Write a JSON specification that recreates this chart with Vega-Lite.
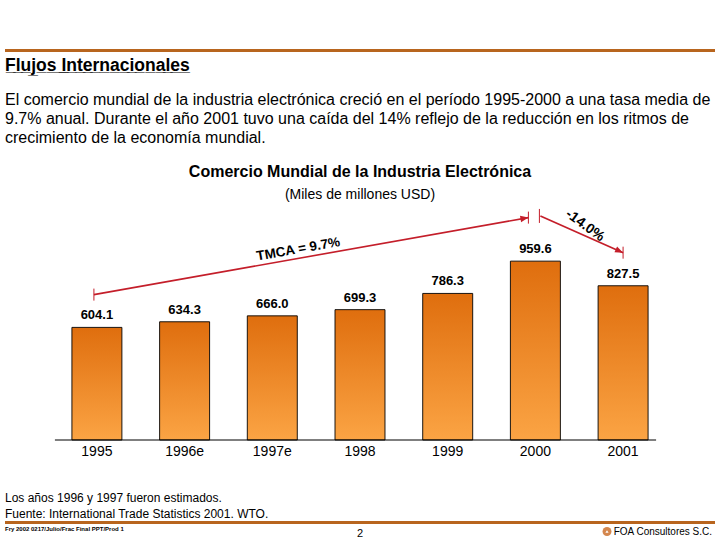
{
  "$schema": "https://vega.github.io/schema/vega-lite/v6.json",
  "background": "white",
  "padding": {"left": 5, "right": 5, "top": 49, "bottom": 0},
  "spacing": 17,
  "config": {
    "font": "Liberation Sans",
    "view": {"stroke": null},
    "title": {"color": "black", "subtitleColor": "black", "font": "Liberation Sans", "subtitleFont": "Liberation Sans"},
    "axis": {"labelColor": "black", "titleColor": "black"}
  },
  "datasets": {
    "bars": [
      {"year": "1995", "value": 604.1},
      {"year": "1996e", "value": 634.3},
      {"year": "1997e", "value": 666.0},
      {"year": "1998", "value": 699.3},
      {"year": "1999", "value": 786.3},
      {"year": "2000", "value": 959.6},
      {"year": "2001", "value": 827.5}
    ],
    "arrows": [
      {"id": "tmca", "x": "1995", "y": 780, "x2": "2000", "y2": 1193},
      {"id": "drop", "x": "2000", "y": 1202, "x2": "2001", "y2": 1005}
    ],
    "notes": [
      {"id": "tmca", "text": "TMCA = 9.7%", "year": "1997e", "value": 1023},
      {"id": "drop", "text": "-14.0%", "year": "2001", "value": 1150}
    ],
    "footer": [
      {"pos": "left", "text": "Fry 2002 0217/Julio/Frac Final PPT/Prod 1"},
      {"pos": "center", "text": "2"},
      {"pos": "right", "text": "FOA Consultores S.C."}
    ]
  },
  "vconcat": [
    {
      "width": 710,
      "height": 3,
      "view": {"fill": "#B8651E", "stroke": null},
      "data": {"values": []},
      "mark": "text",
      "title": {
        "text": "F\u0332l\u0332u\u0332j\u0332o\u0332s\u0332 \u0332I\u0332n\u0332t\u0332e\u0332r\u0332n\u0332a\u0332c\u0332i\u0332o\u0332n\u0332a\u0332l\u0332e\u0332s\u0332",
        "orient": "bottom",
        "anchor": "start",
        "offset": 5,
        "fontSize": 17.5,
        "fontWeight": "bold",
        "subtitle": [
          "El comercio mundial de la industria electrónica creció en el período 1995-2000 a una tasa media de",
          "9.7% anual. Durante el año 2001 tuvo una caída del 14% reflejo de la reducción en los ritmos de",
          "crecimiento de la economía mundial."
        ],
        "subtitleFontSize": 16,
        "subtitleLineHeight": 19,
        "subtitlePadding": 17.5
      }
    },
    {
      "spacing": 34,
      "vconcat": [
        {
          "width": 710,
          "height": 233,
          "title": {
            "text": "Comercio Mundial de la Industria Electrónica",
            "subtitle": "(Miles de millones USD)",
            "anchor": "middle",
            "fontSize": 16,
            "fontWeight": "bold",
            "subtitleFontSize": 14,
            "subtitlePadding": 8,
            "offset": 5
          },
          "layer": [
            {
              "data": {"name": "bars"},
              "mark": {
                "type": "bar",
                "fill": {"gradient": "linear", "x1": 0, "y1": 0, "x2": 0, "y2": 1,
                  "stops": [{"offset": 0, "color": "#DF6E0E"}, {"offset": 1, "color": "#FBA444"}]},
                "stroke": "#000000",
                "strokeWidth": 0.9
              },
              "encoding": {
                "x": {
                  "field": "year", "type": "nominal", "sort": null,
                  "scale": {"domain": ["1995", "1996e", "1997e", "1998", "1999", "2000", "2001"], "paddingInner": 0.43, "paddingOuter": 0.763},
                  "axis": {"title": null, "labelAngle": 0, "domain": false, "ticks": false, "labelFontSize": 14, "labelPadding": 4, "labelFont": "Liberation Sans"}
                },
                "y": {
                  "field": "value", "type": "quantitative",
                  "scale": {"domain": [0, 1250], "nice": false},
                  "axis": null
                }
              }
            },
            {
              "data": {"name": "bars"},
              "mark": {"type": "text", "baseline": "bottom", "dy": -5, "fontSize": 13, "fontWeight": "bold", "color": "black"},
              "encoding": {
                "x": {"field": "year", "type": "nominal", "title": null},
                "y": {"field": "value", "type": "quantitative"},
                "text": {"field": "value", "type": "quantitative", "format": ".1f"}
              }
            },
            {
              "data": {"values": [{}]},
              "mark": {"type": "rule", "color": "black", "strokeWidth": 1.2, "xOffset": -42, "x2Offset": 33},
              "encoding": {
                "x": {"datum": "1995", "type": "nominal"},
                "x2": {"datum": "2001"},
                "y": {"datum": 0, "type": "quantitative"}
              }
            },
            {
              "data": {"name": "arrows"},
              "transform": [{"filter": "datum.id == 'tmca'"}],
              "mark": {"type": "rule", "color": "#C41E2A", "strokeWidth": 1.6, "xOffset": -3, "x2Offset": -7},
              "encoding": {
                "x": {"field": "x", "type": "nominal", "title": null},
                "x2": {"field": "x2"},
                "y": {"field": "y", "type": "quantitative"},
                "y2": {"field": "y2"}
              }
            },
            {
              "data": {"name": "arrows"},
              "transform": [{"filter": "datum.id == 'tmca'"}],
              "mark": {"type": "point", "shape": "M0,0L-2,-0.8L-2,0.8Z", "size": 64, "filled": true, "opacity": 1, "color": "#C41E2A", "angle": -10, "xOffset": -7},
              "encoding": {
                "x": {"field": "x2", "type": "nominal", "title": null},
                "y": {"field": "y2", "type": "quantitative"}
              }
            },
            {
              "data": {"name": "arrows"},
              "transform": [{"filter": "datum.id == 'tmca'"}],
              "mark": {"type": "rule", "color": "#C41E2A", "strokeWidth": 1, "xOffset": -3, "yOffset": -6, "y2Offset": 6},
              "encoding": {
                "x": {"field": "x", "type": "nominal", "title": null},
                "y": {"field": "y", "type": "quantitative"},
                "y2": {"field": "y"}
              }
            },
            {
              "data": {"name": "arrows"},
              "transform": [{"filter": "datum.id == 'tmca'"}],
              "mark": {"type": "rule", "color": "#C41E2A", "strokeWidth": 1, "xOffset": -7, "yOffset": -6, "y2Offset": 6},
              "encoding": {
                "x": {"field": "x2", "type": "nominal", "title": null},
                "y": {"field": "y2", "type": "quantitative"},
                "y2": {"field": "y2"}
              }
            },
            {
              "data": {"name": "arrows"},
              "transform": [{"filter": "datum.id == 'drop'"}],
              "mark": {"type": "rule", "color": "#C41E2A", "strokeWidth": 1.6, "xOffset": 5, "x2Offset": 0},
              "encoding": {
                "x": {"field": "x", "type": "nominal", "title": null},
                "x2": {"field": "x2"},
                "y": {"field": "y", "type": "quantitative"},
                "y2": {"field": "y2"}
              }
            },
            {
              "data": {"name": "arrows"},
              "transform": [{"filter": "datum.id == 'drop'"}],
              "mark": {"type": "point", "shape": "M0,0L-2,-0.8L-2,0.8Z", "size": 64, "filled": true, "opacity": 1, "color": "#C41E2A", "angle": 24},
              "encoding": {
                "x": {"field": "x2", "type": "nominal", "title": null},
                "y": {"field": "y2", "type": "quantitative"}
              }
            },
            {
              "data": {"name": "arrows"},
              "transform": [{"filter": "datum.id == 'drop'"}],
              "mark": {"type": "rule", "color": "#C41E2A", "strokeWidth": 1, "xOffset": 4, "yOffset": -7, "y2Offset": 7},
              "encoding": {
                "x": {"field": "x", "type": "nominal", "title": null},
                "y": {"field": "y", "type": "quantitative"},
                "y2": {"field": "y"}
              }
            },
            {
              "data": {"name": "arrows"},
              "transform": [{"filter": "datum.id == 'drop'"}],
              "mark": {"type": "rule", "color": "#C41E2A", "strokeWidth": 1, "xOffset": 0, "yOffset": -6, "y2Offset": 6},
              "encoding": {
                "x": {"field": "x2", "type": "nominal", "title": null},
                "y": {"field": "y2", "type": "quantitative"},
                "y2": {"field": "y2"}
              }
            },
            {
              "data": {"name": "notes"},
              "transform": [{"filter": "datum.id == 'tmca'"}],
              "mark": {"type": "text", "fontSize": 13.5, "fontWeight": "bold", "angle": -10, "xOffset": 26, "color": "black"},
              "encoding": {
                "x": {"field": "year", "type": "nominal", "title": null},
                "y": {"field": "value", "type": "quantitative"},
                "text": {"field": "text"}
              }
            },
            {
              "data": {"name": "notes"},
              "transform": [{"filter": "datum.id == 'drop'"}],
              "mark": {"type": "text", "fontSize": 14, "fontWeight": "bold", "angle": 36, "xOffset": -38, "color": "black"},
              "encoding": {
                "x": {"field": "year", "type": "nominal", "title": null},
                "y": {"field": "value", "type": "quantitative"},
                "text": {"field": "text"}
              }
            }
          ]
        },
        {
          "width": 710,
          "height": 3,
          "view": {"fill": "#B8651E", "stroke": null},
          "title": {
            "text": ["Los años 1996 y 1997 fueron estimados.", "Fuente:  International Trade Statistics 2001. WTO."],
            "orient": "top",
            "anchor": "start",
            "fontSize": 12,
            "fontWeight": "normal",
            "lineHeight": 16,
            "offset": 0
          },
          "data": {"name": "footer"},
          "encoding": {
            "x": {"field": "pos", "type": "nominal", "scale": {"type": "point", "domain": ["left", "center", "right"], "padding": 0}, "axis": null}
          },
          "layer": [
            {
              "transform": [{"filter": "datum.pos == 'left'"}],
              "mark": {"type": "text", "align": "left", "baseline": "middle", "dy": 6, "fontSize": 6, "fontWeight": "bold", "color": "black"},
              "encoding": {"text": {"field": "text"}}
            },
            {
              "transform": [{"filter": "datum.pos == 'center'"}],
              "mark": {"type": "text", "align": "center", "baseline": "middle", "dy": 11, "fontSize": 11, "color": "black"},
              "encoding": {"text": {"field": "text"}}
            },
            {
              "transform": [{"filter": "datum.pos == 'right'"}],
              "mark": {"type": "text", "align": "right", "baseline": "middle", "dy": 9, "dx": -3, "fontSize": 10, "color": "black"},
              "encoding": {"text": {"field": "text"}}
            },
            {
              "transform": [{"filter": "datum.pos == 'right'"}],
              "mark": {"type": "point", "shape": "circle", "filled": true, "opacity": 1, "size": 80, "color": "#D4874E", "xOffset": -108, "yOffset": 9},
              "encoding": {}
            },
            {
              "transform": [{"filter": "datum.pos == 'right'"}],
              "mark": {"type": "point", "shape": "triangle-up", "filled": true, "opacity": 1, "size": 10, "color": "white", "xOffset": -108, "yOffset": 9},
              "encoding": {}
            }
          ]
        }
      ]
    }
  ]
}
